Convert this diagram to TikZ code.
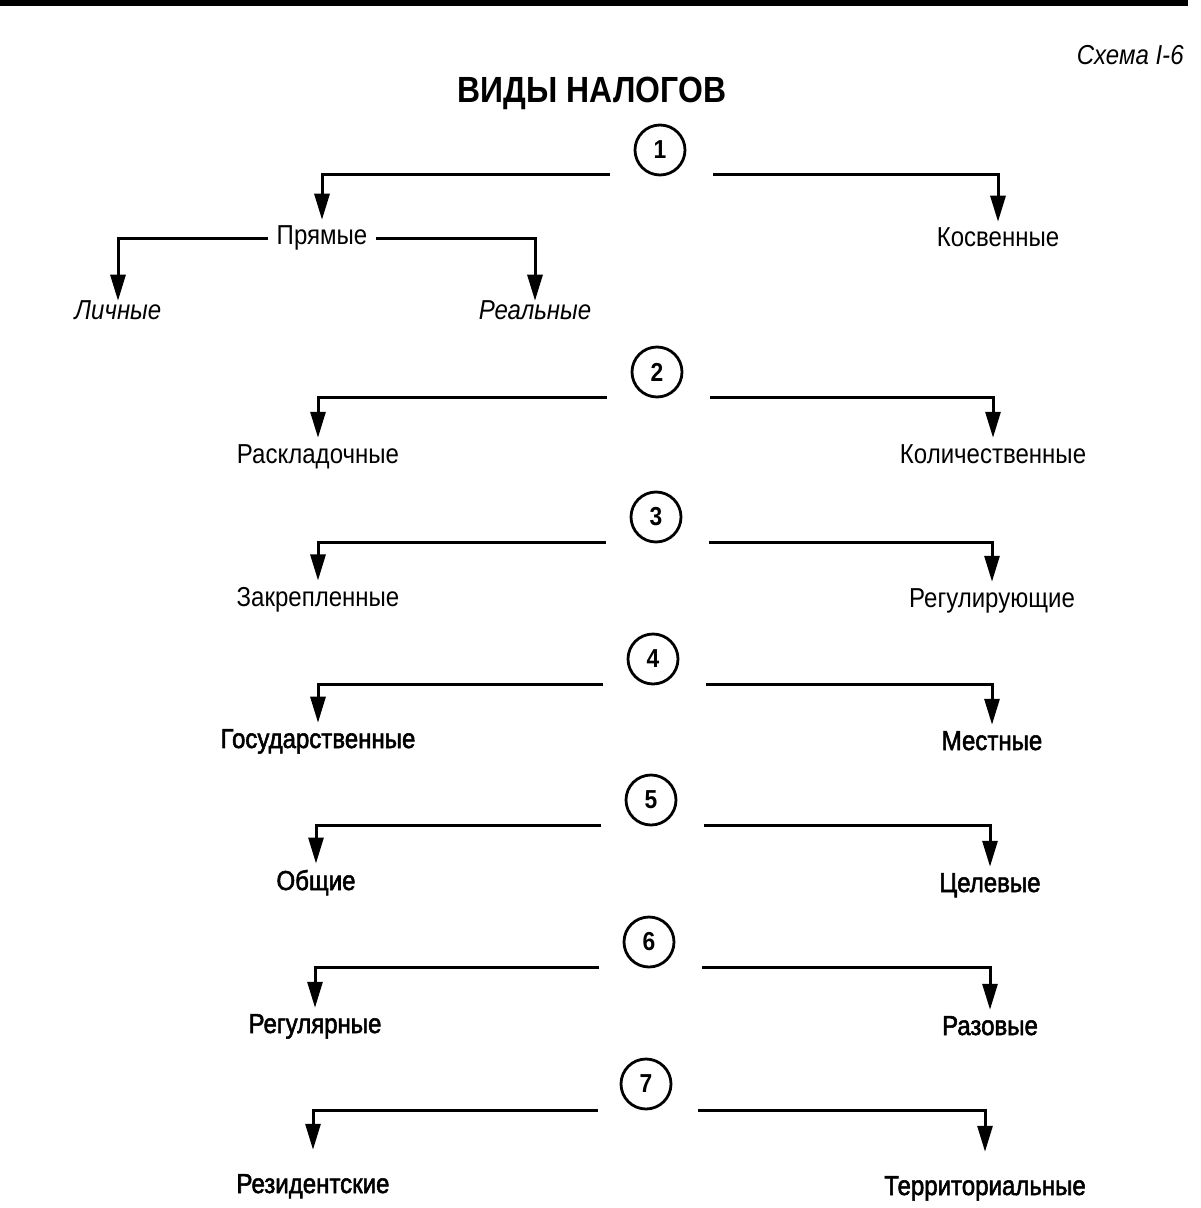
\documentclass[tikz,border=0pt]{standalone}
\usepackage{fontspec}
\setmainfont{Liberation Sans}[FakeStretch=0.877]
\newfontfamily\heavyfont{Liberation Sans}[FakeStretch=0.877,FakeBold=2]
\usetikzlibrary{arrows.meta,positioning}
\tikzset{
  kind/.style={anchor=base,inner ysep=0pt,inner xsep=4pt,font=\fontsize{13.7}{16}\selectfont},
  subkind/.style={kind,font=\fontsize{13.7}{16}\selectfont\itshape},
  heavykind/.style={kind,font=\fontsize{13.7}{16}\heavyfont},
  num/.style={circle,draw,line width=1.4pt,minimum size=25pt,inner sep=0pt,
    font=\fontsize{13}{15}\selectfont\bfseries},
  branch/.style={->,>={Triangle[length=13pt,width=7.5pt]},line width=1.5pt,
    shorten >=3pt}
}
\begin{document}
\begin{tikzpicture}[x=0.5pt,y=-0.5pt]
  \useasboundingbox (0,0) rectangle (1200,1208);
  \draw[line width=3pt] (0,3) -- (1188,3);

  \node[anchor=east,inner sep=0pt,font=\fontsize{13.7}{16}\selectfont\itshape] (scheme) at (1184,55) {Схема I-6};
  \node[font=\fontsize{18.2}{20}\selectfont\bfseries] (title) at (592,93) {ВИДЫ НАЛОГОВ};

  % 1
  \node[num] (n1) at (660,150) {1};
  \node[kind] (pryam) at (322,245) {Прямые};
  \node[kind] (kosv) at (998,247) {Косвенные};
  \node[subkind] (lich) at (118,320) {Личные};
  \node[subkind] (real) at (535,320) {Реальные};
  \draw[branch] ([shift={(-50,25)}]n1.center) -| (pryam);
  \draw[branch] ([shift={(53,25)}]n1.center) -| (kosv);
  \draw[branch,shorten >=0pt] (pryam.west) -| (lich);
  \draw[branch,shorten >=0pt] (pryam.east) -| (real);

  % 2
  \node[num] (n2) at (657,372) {2};
  \node[kind] (raskl) at (318,463) {Раскладочные};
  \node[kind] (kolich) at (993,463) {Количественные};
  \draw[branch] ([shift={(-50,25)}]n2.center) -| (raskl);
  \draw[branch] ([shift={(53,25)}]n2.center) -| (kolich);

  % 3
  \node[num] (n3) at (656,517) {3};
  \node[kind] (zakr) at (318,606) {Закрепленные};
  \node[kind] (regul) at (992,607) {Регулирующие};
  \draw[branch] ([shift={(-50,25)}]n3.center) -| (zakr);
  \draw[branch] ([shift={(53,25)}]n3.center) -| (regul);

  % 4
  \node[num] (n4) at (653,659) {4};
  \node[heavykind] (gos) at (318,748) {Государственные};
  \node[heavykind] (mest) at (992,750) {Местные};
  \draw[branch] ([shift={(-50,25)}]n4.center) -| (gos);
  \draw[branch] ([shift={(53,25)}]n4.center) -| (mest);

  % 5
  \node[num] (n5) at (651,800) {5};
  \node[heavykind] (obsh) at (316,890) {Общие};
  \node[heavykind] (cel) at (990,892) {Целевые};
  \draw[branch] ([shift={(-50,25)}]n5.center) -| (obsh);
  \draw[branch] ([shift={(53,25)}]n5.center) -| (cel);

  % 6
  \node[num] (n6) at (649,942) {6};
  \node[heavykind] (regl) at (315,1033) {Регулярные};
  \node[heavykind] (raz) at (990,1035) {Разовые};
  \draw[branch] ([shift={(-50,25)}]n6.center) -| (regl);
  \draw[branch] ([shift={(53,25)}]n6.center) -| (raz);

  % 7
  \node[num] (n7) at (646,1084) {7};
  \node[heavykind] (rezid) at (313,1193) {Резидентские};
  \node[heavykind] (terr) at (985,1195) {Территориальные};
  \draw[branch,shorten >=12pt] ([shift={(-48,26)}]n7.center) -| (rezid);
  \draw[branch,shorten >=12pt] ([shift={(52,26)}]n7.center) -| (terr);
\end{tikzpicture}
\end{document}
